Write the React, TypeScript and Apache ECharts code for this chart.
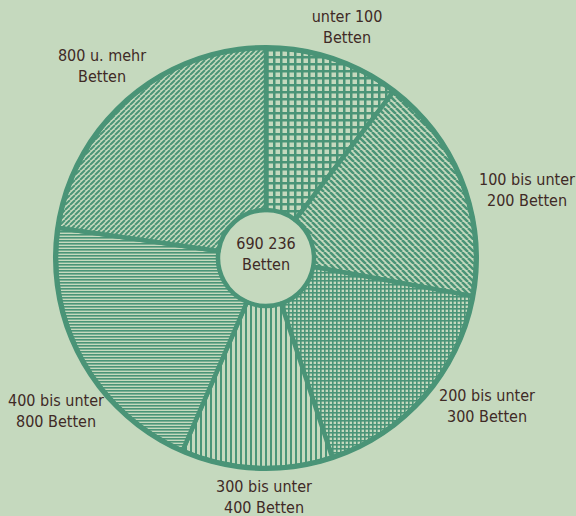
import React, { useEffect, useRef } from "react";
import * as echarts from "echarts";

// Bed-size classes (Krankenhausbetten) and estimated number of beds per class
const categories = [
  "unter 100 Betten",
  "100 bis unter 200 Betten",
  "200 bis unter 300 Betten",
  "300 bis unter 400 Betten",
  "400 bis unter 800 Betten",
  "800 u. mehr Betten",
];
const beds = [71800, 120800, 117300, 80100, 143600, 156636];
const labelLines = [
  ["unter 100", "Betten"],
  ["100 bis unter", "200 Betten"],
  ["200 bis unter", "300 Betten"],
  ["300 bis unter", "400 Betten"],
  ["400 bis unter", "800 Betten"],
  ["800 u. mehr", "Betten"],
];
const totalLabel = ["690 236", "Betten"];

const BG = "#c5d9be";
const GREEN = "#4a9477";
const TEXT = "#3f2a26";
const FONT = '16px "DejaVu Sans Condensed", "Liberation Sans Narrow", "DejaVu Sans", sans-serif';

type Draw = (ctx: CanvasRenderingContext2D, w: number, h: number) => void;

function makeCanvas(w: number, h: number, draw: Draw) {
  const c = document.createElement("canvas");
  c.width = w;
  c.height = h;
  const ctx = c.getContext("2d")!;
  ctx.fillStyle = BG;
  ctx.fillRect(0, 0, w, h);
  ctx.fillStyle = GREEN;
  ctx.strokeStyle = GREEN;
  draw(ctx, w, h);
  return c;
}

const gridPat = (p: number, lw: number) =>
  makeCanvas(p, p, (ctx, w, h) => {
    ctx.fillRect(0, 0, w, lw);
    ctx.fillRect(0, 0, lw, h);
  });
const vertPat = (p: number, lw: number) =>
  makeCanvas(p, 4, (ctx, w, h) => {
    ctx.fillRect(0, 0, lw, h);
  });
const horzPat = (p: number, lw: number) =>
  makeCanvas(4, p, (ctx, w) => {
    ctx.fillRect(0, 0, w, lw);
  });
const diagPat = (p: number, lw: number, back: boolean) =>
  makeCanvas(p, p, (ctx) => {
    ctx.lineWidth = lw;
    ctx.beginPath();
    for (let k = -1; k <= 1; k++) {
      if (back) {
        ctx.moveTo(k * p, 0);
        ctx.lineTo(k * p + p, p);
      } else {
        ctx.moveTo(k * p, p);
        ctx.lineTo(k * p + p, 0);
      }
    }
    ctx.stroke();
  });

export default function App() {
  const ref = useRef<HTMLDivElement>(null);
  useEffect(() => {
    document.body.style.margin = "0";
    document.body.style.background = BG;
    const chart = echarts.init(ref.current!, null, { renderer: "svg" });
    const patterns = [
      gridPat(7, 2.5),
      diagPat(6, 2.5, true),
      gridPat(4, 1.6),
      vertPat(5, 2),
      horzPat(3, 1.6),
      diagPat(5, 2, false),
    ];
    const cx = 266;
    const cy = 258;
    const labelPos = [
      [347, 26.5],
      [527, 189.5],
      [487, 405.5],
      [264, 496.5],
      [56, 410.5],
      [102, 66],
    ];
    const graphics: any[] = labelLines.map((lines, i) => ({
      type: "text",
      x: labelPos[i][0],
      y: labelPos[i][1],
      silent: true,
      style: {
        text: lines.join("\n"),
        fill: TEXT,
        font: FONT,
        lineHeight: 21,
        textAlign: "center",
        textVerticalAlign: "middle",
      },
    }));
    graphics.push({
      type: "text",
      x: cx,
      y: 253.5,
      silent: true,
      style: {
        text: totalLabel.join("\n"),
        fill: TEXT,
        font: FONT,
        lineHeight: 21,
        textAlign: "center",
        textVerticalAlign: "middle",
      },
    });
    chart.setOption({
      animation: false,
      backgroundColor: BG,
      graphic: graphics,
      series: [
        {
          type: "pie",
          silent: true,
          center: [cx, cy],
          radius: [48, 210],
          startAngle: 90,
          clockwise: true,
          label: { show: false },
          labelLine: { show: false },
          emphasis: { disabled: true },
          itemStyle: { borderColor: GREEN, borderWidth: 4.5 },
          data: categories.map((name, i) => ({
            name,
            value: beds[i],
            itemStyle: { color: { image: patterns[i], repeat: "repeat" } },
          })),
        },
        {
          type: "pie",
          silent: true,
          center: [cx, cy],
          radius: [208, 213],
          label: { show: false },
          labelLine: { show: false },
          emphasis: { disabled: true },
          itemStyle: { color: GREEN },
          data: [{ name: "Rand", value: 1 }],
        },
      ],
    });
    return () => chart.dispose();
  }, []);
  return <div ref={ref} style={{ width: 576, height: 516, background: BG }} />;
}
